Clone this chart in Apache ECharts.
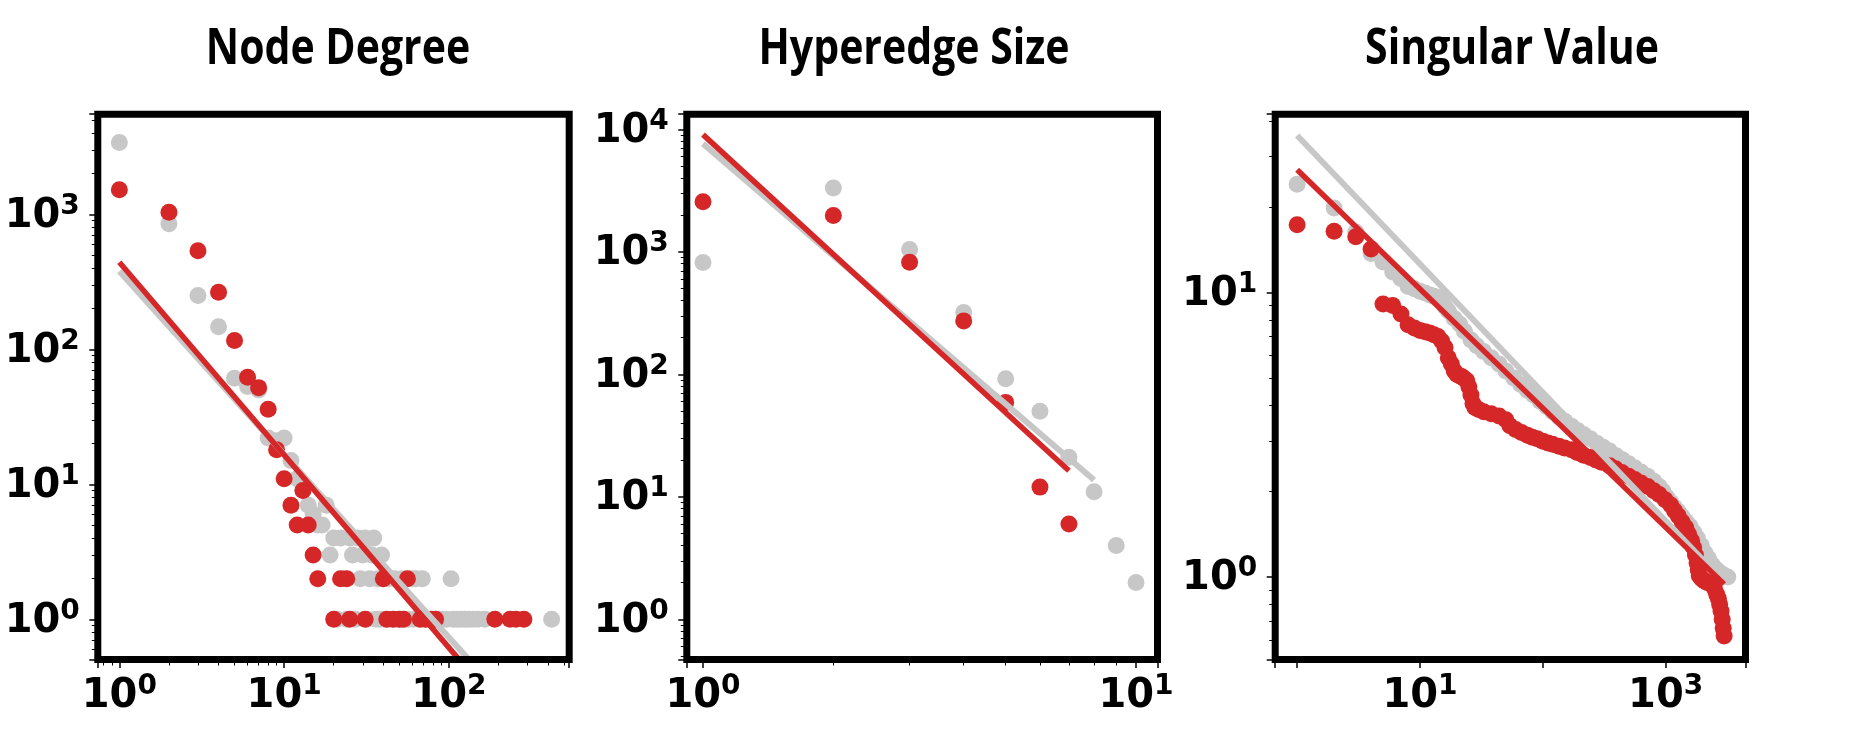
<!DOCTYPE html>
<html><head><meta charset="utf-8">
<script src="https://cdn.jsdelivr.net/npm/echarts@6/dist/echarts.min.js"></script>
<style>html,body{margin:0;padding:0;background:#fff}#c{width:1856px;height:738px}</style>
</head><body><div id="c"></div>
<script>
const panelTitles = ['Node Degree', 'Hyperedge Size', 'Singular Value'];

// ---- Panel 1: Node Degree ----
const degGrayX = [1,2,3,4,5,6,7,8,9,10,11,12,13,14,15,16,17,18,19,20,21,22,23,24,25,26,27,28,29,30,31,32,33,34,35,36,37,38,39,40,41,43,44,46,47,49,51,52,54,57,60,61,63,66,69,72,76,80,84,88,92,97,103,106,112,118,125,132,140,150,165,420];
const degGrayY = [3400,850,250,147,61,53,50,22,21,22,15,11,9,7,6,5,5,7,3,4,1,4,2,1,4,3,1,4,2,3,4,1,2,3,4,1,2,1,3,2,1,2,1,1,2,1,1,2,1,1,2,1,2,1,2,1,1,1,1,1,1,1,2,1,1,1,1,1,1,1,1,1];
const degRedX = [1,2,3,4,5,6,7,8,9,10,11,12,13,14,15,16,20,22,24,25,31,40,42,46,50,53,56,67,72,78,83,190,235,255,285];
const degRedY = [1520,1036,537,265,116,62,52,36,18,11,7,5,9,5,3,2,1,2,2,1,1,2,1,1,1,1,2,1,1,1,1,1,1,1,1];
const degGrayFitX = [1, 130], degGrayFitY = [378, 0.514];
const degRedFitX = [1, 115], degRedFitY = [441, 0.505];
const degXRange = [0.740, 537], degYRange = [0.504, 5510];
const degXLabels = [0, 1, 2], degYLabels = [0, 1, 2, 3];

// ---- Panel 2: Hyperedge Size ----
const sizeGrayX = [1,2,3,4,5,6,7,8,9,10];
const sizeGrayY = [817,3320,1045,319,92,50,21,11,4,2];
const sizeRedX = [1,2,3,4,5,6,7];
const sizeRedY = [2560,1980,820,273,59,12,6];
const sizeGrayFitX = [1, 8], sizeGrayFitY = [7640, 13.7];
const sizeRedFitX = [1, 7], sizeRedFitY = [9050, 16.3];
const sizeXRange = [0.9175, 11.21], sizeYRange = [0.47, 13280];
const sizeXLabels = [0, 1], sizeYLabels = [0, 1, 2, 3, 4];

// ---- Panel 3: Singular Value ----
const svGrayX = [1,2,3,4,5,6,7,8,9,10,11,12,13,14,15,16,17,19,21,23,26,29,33,38,44,50,58,66,75,84,95,107,120,135,152,171,192,216,244,275,310,349,395,445,500,560,630,714,800,885,950,1018,1100,1180,1265,1360,1460,1571,1690,1810,1950,2090,2240,2410,2600,2780,2980,3200];
const svGrayY = [24.0,19.8,16.3,13.7,12.8,11.8,11.2,10.5,10.3,10.1,9.95,9.8,9.7,9.6,9.3,8.9,8.6,8.1,7.75,7.3,6.8,6.5,6.2,5.9,5.6,5.3,5.0,4.75,4.52,4.36,4.15,3.97,3.81,3.65,3.52,3.39,3.27,3.16,3.06,2.95,2.86,2.77,2.67,2.58,2.50,2.42,2.34,2.26,2.17,2.08,2.0,1.91,1.83,1.76,1.70,1.63,1.57,1.51,1.44,1.37,1.29,1.215,1.16,1.10,1.06,1.034,1.015,1.0];
const svRedX = [1,2,3,4,5,6,7,8,9,10,11,12,13,14,15,16,17,18,19,20,21,22,23,24,25,26,27,28,30,33,38,44,50,54,60,67,75,82,90,100,110,120,135,150,171,190,215,244,270,300,349,390,440,500,560,630,714,800,885,990,1097,1180,1265,1360,1461,1540,1626,1690,1746,1800,1840,1876,1950,2016,2100,2200,2300,2410,2500,2600,2684,2750,2820,2884,2940,2989];
const svRedY = [17.3,16.4,15.7,14.2,9.1,9.0,8.4,7.7,7.5,7.35,7.28,7.2,7.1,7.0,6.75,6.4,5.9,5.6,5.3,5.15,5.1,5.05,4.97,4.9,4.66,4.36,4.07,3.94,3.88,3.81,3.75,3.68,3.57,3.4,3.3,3.22,3.15,3.1,3.06,3.0,2.96,2.93,2.88,2.84,2.8,2.74,2.68,2.63,2.58,2.53,2.46,2.40,2.33,2.26,2.2,2.14,2.08,2.01,1.95,1.87,1.79,1.71,1.64,1.56,1.49,1.41,1.34,1.27,1.195,1.12,1.06,1.01,0.99,0.977,0.965,0.955,0.95,0.944,0.91,0.87,0.84,0.8,0.76,0.71,0.66,0.62];
const svGrayFitX = [1, 2990], svGrayFitY = [35.6, 0.96];
const svRedFitX = [1, 2990], svRedFitY = [27.0, 0.944];
const svXRange = [0.663, 4463], svYRange = [0.513, 42.3];
const svXLabels = [1, 3], svYLabels = [0, 1];

// ---- styling ----
const RED = '#d62728', GRAY = '#c7c7c7';
const FONT = 'DejaVu Sans';
const rich = {
  b: {fontFamily: FONT, fontWeight: 'bold', fontSize: 40, lineHeight: 44, verticalAlign: 'bottom', color: '#000'},
  s: {fontFamily: FONT, fontWeight: 'bold', fontSize: 28, lineHeight: 22, verticalAlign: 'top', color: '#000'}
};
const grids = [
  {left: 97.8, top: 114.2, width: 471.4, height: 545.3},
  {left: 686.8, top: 114.2, width: 470.7, height: 545.3},
  {left: 1275.2, top: 114.2, width: 470.3, height: 545.3}
].map(g => Object.assign(g, {show: true, borderColor: '#000', borderWidth: 7, backgroundColor: 'transparent', z: 5}));

function zip(xs, ys) { return xs.map((x, i) => [x, ys[i]]); }
function labelFormatter(exps) {
  return function (v) {
    const e = Math.log10(v), r = Math.round(e);
    if (Math.abs(e - r) > 1e-6 || exps.indexOf(r) < 0) return '';
    return '{b|10}{s|' + r + '}';
  };
}
function minorValues(range) {
  const out = [];
  for (let k = -2; k <= 5; k++) for (let m = 2; m <= 9; m++) {
    const v = m * Math.pow(10, k);
    if (v > range[0] && v < range[1]) out.push(v);
  }
  return out;
}
function majorAxis(gi, range, exps, pos) {
  const isX = pos === 'bottom';
  return {
    type: 'log', logBase: 10, gridIndex: gi, position: pos, min: range[0], max: range[1],
    axisLine: {show: false},
    axisTick: {show: true, inside: false, length: 8.5, lineStyle: {color: '#000', width: 1.5}},
    minorTick: {show: false},
    splitLine: {show: false},
    axisLabel: {formatter: labelFormatter(exps), rich: rich, margin: isX ? 13 : 18,
      showMinLabel: true, showMaxLabel: true, hideOverlap: false}
  };
}
function minorAxis(gi, range, pos) {
  return {
    type: 'log', logBase: 10, gridIndex: gi, position: pos, min: range[0], max: range[1],
    axisLine: {show: false}, splitLine: {show: false}, axisLabel: {show: false},
    axisTick: {show: true, inside: false, length: 6, customValues: minorValues(range), lineStyle: {color: '#000', width: 1}}
  };
}

const xAxis = [
  majorAxis(0, degXRange, degXLabels, 'bottom'),
  majorAxis(1, sizeXRange, sizeXLabels, 'bottom'),
  majorAxis(2, svXRange, svXLabels, 'bottom'),
  minorAxis(0, degXRange, 'bottom'),
  minorAxis(1, sizeXRange, 'bottom')
];
const yAxis = [
  majorAxis(0, degYRange, degYLabels, 'left'),
  majorAxis(1, sizeYRange, sizeYLabels, 'left'),
  majorAxis(2, svYRange, svYLabels, 'left'),
  minorAxis(0, degYRange, 'left'),
  minorAxis(1, sizeYRange, 'left'),
  minorAxis(2, svYRange, 'left')
];

function panelSeries(gi, gx, gy, rx, ry, gfx, gfy, rfx, rfy) {
  const base = {xAxisIndex: gi, yAxisIndex: gi, animation: false, silent: true};
  return [
    Object.assign({type: 'scatter', data: zip(gx, gy), symbolSize: 17, itemStyle: {color: GRAY, opacity: 1}}, base),
    Object.assign({type: 'line', data: zip(gfx, gfy), showSymbol: false, symbol: 'none', lineStyle: {color: GRAY, width: 6, opacity: 1}}, base),
    Object.assign({type: 'scatter', data: zip(rx, ry), symbolSize: 17, itemStyle: {color: RED, opacity: 1}}, base),
    Object.assign({type: 'line', data: zip(rfx, rfy), showSymbol: false, symbol: 'none', lineStyle: {color: RED, width: 5.5, opacity: 1}}, base)
  ];
}

const series = [].concat(
  panelSeries(0, degGrayX, degGrayY, degRedX, degRedY, degGrayFitX, degGrayFitY, degRedFitX, degRedFitY),
  panelSeries(1, sizeGrayX, sizeGrayY, sizeRedX, sizeRedY, sizeGrayFitX, sizeGrayFitY, sizeRedFitX, sizeRedFitY),
  panelSeries(2, svGrayX, svGrayY, svRedX, svRedY, svGrayFitX, svGrayFitY, svRedFitX, svRedFitY)
);

const titleCenters = [338, 914, 1512];
const graphic = panelTitles.map((t, i) => ({
  type: 'text', x: titleCenters[i], y: 50, scaleX: 0.82, silent: true,
  style: {text: t, font: 'bold 50px "Open Sans"', fill: '#000', textAlign: 'center', textVerticalAlign: 'middle'}
}));

const chart = echarts.init(document.getElementById('c'), null, {renderer: 'canvas'});
chart.setOption({
  animation: false,
  backgroundColor: '#fff',
  grid: grids,
  xAxis: xAxis,
  yAxis: yAxis,
  series: series,
  graphic: graphic
});
</script>
</body></html>
